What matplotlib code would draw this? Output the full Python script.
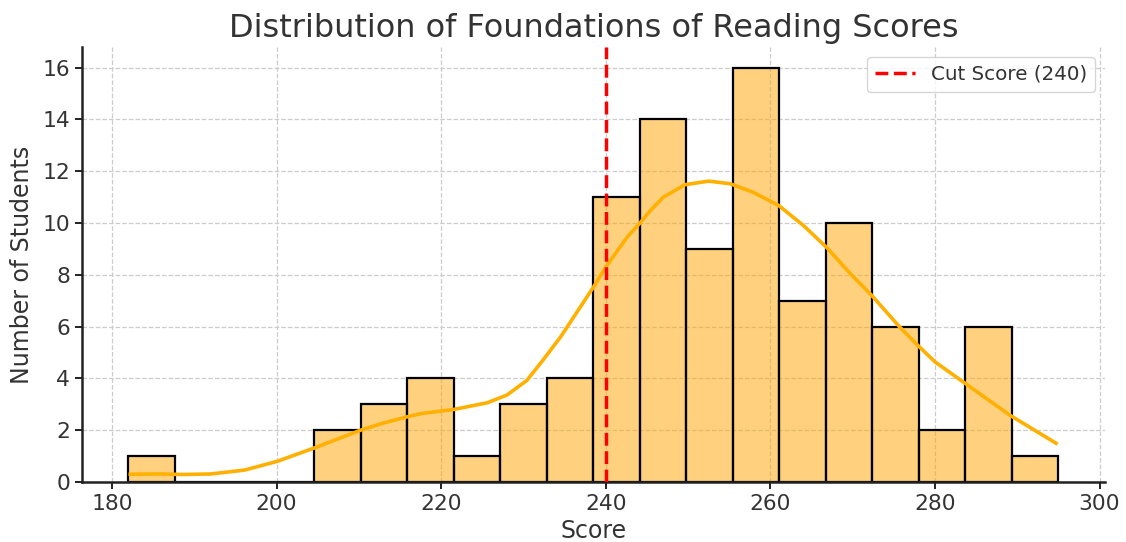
import numpy as np
import matplotlib
matplotlib.use("Agg")
import matplotlib.pyplot as plt

# histogram: 20 equal bins from 182 to 295
bin_lo = 182.0
bin_hi = 295.0
counts = [1, 0, 0, 0, 2, 3, 4, 1, 3, 4, 11, 14, 9, 16, 7, 10, 6, 2, 6, 1]

# kde curve, points
kde_x = [182.0, 185.9, 188.5, 192.0, 196.1, 200.1, 204.8, 210.2, 213.0, 215.9,
         217.5, 221.5, 225.6, 228.0, 230.4, 232.4, 234.5, 236.1, 238.5, 240.0,
         242.6, 244.2, 245.4, 247.0, 249.6, 252.5, 255.1, 257.9, 261.0, 264.0,
         266.8, 269.7, 272.3, 275.7, 277.9, 280.0, 283.4, 289.1, 294.9]
kde_y = [0.30, 0.31, 0.29, 0.31, 0.46, 0.80, 1.34, 2.00, 2.28, 2.52,
         2.64, 2.80, 3.06, 3.36, 3.92, 4.72, 5.60, 6.37, 7.53, 8.30,
         9.46, 10.02, 10.48, 11.00, 11.48, 11.62, 11.52, 11.19, 10.68, 9.91,
         9.07, 8.05, 7.21, 5.99, 5.28, 4.64, 3.87, 2.58, 1.46]

cut_score = 240
xticks = [180, 200, 220, 240, 260, 280, 300]
yticks = [0, 2, 4, 6, 8, 10, 12, 14, 16]

TEXT = "#333333"

fig = plt.figure(figsize=(11.26, 5.42), dpi=100)
ax = fig.add_axes([0.0728, 0.1107, 0.9085, 0.8026])

edges = np.linspace(bin_lo, bin_hi, len(counts) + 1)
ax.bar(edges[:-1], counts, width=np.diff(edges), align="edge",
       facecolor=(1.0, 0.647, 0.0, 0.5), edgecolor="black", linewidth=1.6,
       zorder=2)
ax.plot(kde_x, kde_y, color="#FFB000", linewidth=2.6, zorder=3,
        solid_capstyle="butt", solid_joinstyle="round")
ax.axvline(cut_score, color="red", linestyle="--", linewidth=2.5, zorder=4,
           label=f"Cut Score ({cut_score})")

ax.set_xlim(176.35, 300.65)
ax.set_ylim(0, 16.8)
ax.set_xticks(xticks)
ax.set_yticks(yticks)
ax.set_axisbelow(True)
ax.grid(True, linestyle="--", color="#cccccc", linewidth=0.9)

for side in ["top", "right"]:
    ax.spines[side].set_visible(False)
for side in ["left", "bottom"]:
    ax.spines[side].set_linewidth(1.8)
    ax.spines[side].set_color("#222222")
ax.tick_params(labelsize=15.7, colors="#222222", length=5, width=1.4,
               labelcolor=TEXT)

ax.set_title("Distribution of Foundations of Reading Scores", fontsize=23,
             color=TEXT, pad=7)
ax.set_xlabel("Score", fontsize=17, color=TEXT, labelpad=4)
ax.set_ylabel("Number of Students", fontsize=17, color=TEXT, labelpad=6)

leg = ax.legend(loc="upper right", fontsize=14.3, frameon=True, fancybox=True,
                borderpad=0.4, handlelength=2.0)
leg.get_frame().set_edgecolor("#cccccc")
for t in leg.get_texts():
    t.set_color(TEXT)

fig.savefig("out.png", dpi=100)
